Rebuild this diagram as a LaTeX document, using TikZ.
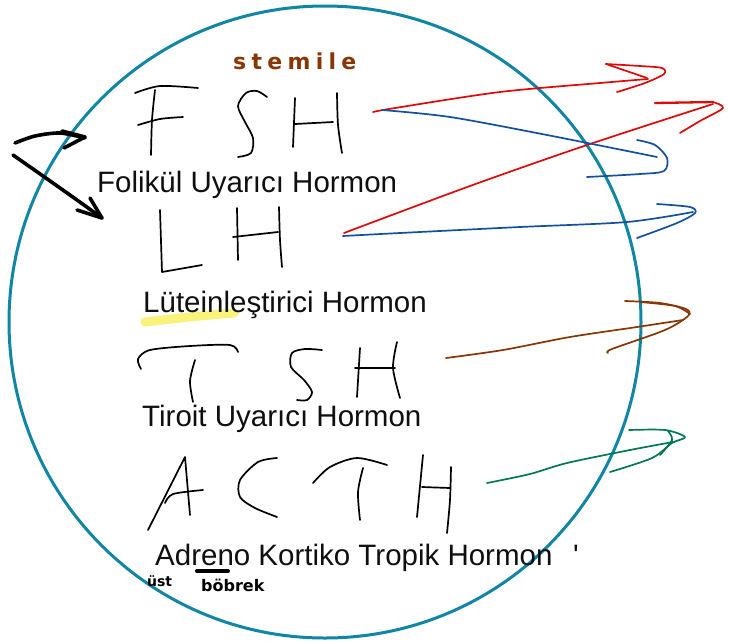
\documentclass[tikz,border=0pt]{standalone}
\usepackage{fontspec}
\setmainfont{Liberation Sans}
\newfontfamily\handfont[LetterSpace=24]{DejaVu Sans}
\newfontfamily\notefont{DejaVu Sans}
\definecolor{circteal}{RGB}{16,134,164}
\definecolor{inkred}{RGB}{222,10,10}
\definecolor{inkblue}{RGB}{20,80,155}
\definecolor{inkbrown}{RGB}{135,55,5}
\definecolor{inkgreen}{RGB}{0,120,85}
\definecolor{hilite}{RGB}{248,240,90}
\definecolor{textblack}{RGB}{15,15,15}
\tikzset{
  pen/.style={line width=1.7pt, line cap=round, line join=round, black},
  bigpen/.style={line width=3.6pt, line cap=round, line join=round, black},
  colpen/.style={line width=1.7pt, line cap=round, line join=round, draw=#1},
  label/.style={anchor=base west, inner sep=0pt, text=textblack, font=\fontsize{29.5}{32}\selectfont},
}
\begin{document}
\begin{tikzpicture}[x=1pt,y=-1pt]
\useasboundingbox (0,0) rectangle (729,641);
\fill[white] (0,0) rectangle (729,641);
% highlight
\draw[line width=9pt, line cap=round, draw=hilite, opacity=0.8]
  plot[smooth] coordinates {(145,322) (180,318) (210,315) (234,313)};
% circle
\node[draw=circteal, line width=3pt, circle, minimum size=632pt, inner sep=0pt] (ring) at (325,322) {};
% texts
\node[label] (fsht) at (97,192) {Folikül Uyarıcı Hormon};
\node[label] (lht) at (143,312) {Lüteinleştirici Hormon};
\node[label] (tsht) at (142,426) {Tiroit Uyarıcı Hormon};
\node[label] (actht) at (155,565) {Adreno Kortiko Tropik Hormon};
\node[label] (tick) at (573,565) {\textquotesingle};
\node[anchor=base west, inner sep=0pt, text=inkbrown, font=\handfont\bfseries\fontsize{22}{24}\selectfont] (stem) at (233,69) {stemile};
\node[anchor=base west, inner sep=0pt, font=\notefont\bfseries\fontsize{14}{15}\selectfont] (ust) at (147,586) {üst};
\node[anchor=base west, inner sep=0pt, font=\notefont\bfseries\fontsize{16}{17}\selectfont] (bobrek) at (201,591) {böbrek};
\draw[line width=4pt, line cap=round] (197,571) -- (228,571);
% FSH
\draw[pen] plot[smooth] coordinates {(135,93) (160,86) (198,88)};
\draw[pen] plot[smooth] coordinates {(155,90) (152,120) (151,155)};
\draw[pen] plot[smooth] coordinates {(138,125) (160,119) (183,117)};
\draw[pen] plot[smooth] coordinates {(267,97) (257,91) (246,93) (238,106) (245,122) (253,138) (251,153) (238,157)};
\draw[pen] (295,98) -- (293,147);
\draw[pen] (295,124) -- (333,122);
\draw[pen] plot[smooth] coordinates {(337,93) (338,125) (342,153)};
% LH
\draw[pen] (160,210) -- (162,272) -- (202,265);
\draw[pen] (237,208) -- (238,260);
\draw[pen] (233,237) -- (278,232);
\draw[pen] plot[smooth] coordinates {(279,207) (280,240) (282,267)};
% TSH
\draw[pen] plot[smooth] coordinates {(141,369) (138,359) (150,350) (190,346) (230,345) (238,352)};
\draw[pen] plot[smooth] coordinates {(195,360) (190,381) (193,402)};
\draw[pen] plot[smooth] coordinates {(322,350) (305,349) (292,353) (291,367) (304,380) (312,392) (307,400) (297,400)};
\draw[pen] (360,348) -- (357,397);
\draw[pen] (355,368) -- (395,368);
\draw[pen] plot[smooth] coordinates {(397,342) (393,368) (400,398)};
% ACTH
\draw[pen] (148,530) -- (185,457) -- (190,515);
\draw[pen] plot[smooth] coordinates {(165,503) (173,494) (203,490)};
\draw[pen] plot[smooth] coordinates {(277,458) (258,462) (240,480) (240,497) (255,508) (277,517)};
\draw[pen] plot[smooth] coordinates {(313,483) (330,467) (357,458) (387,465)};
\draw[pen] plot[smooth] coordinates {(363,468) (358,492) (360,520)};
\draw[pen] (423,455) -- (417,517);
\draw[pen] (422,487) -- (450,488);
\draw[pen] plot[smooth] coordinates {(451,467) (450,500) (447,533)};
% black arrows
\draw[bigpen] plot[smooth] coordinates {(15,143) (35,136) (60,133) (85,138)};
\draw[bigpen] (62,131) -- (85,137) -- (64,148);
\draw[bigpen] plot[smooth] coordinates {(13,155) (43,176) (77,200) (102,218)};
\draw[bigpen] (90,198) -- (102,218) -- (77,210);
% red arrows
\draw[colpen=inkred] plot[smooth] coordinates {(373,112) (395,108) (500,92) (600,83) (648,79)};
\draw[colpen=inkred] (606,64) -- (647,78);
\draw[colpen=inkred] plot[smooth] coordinates {(606,64) (640,66) (662,68) (664,74) (645,83) (617,92)};
\draw[colpen=inkred] plot[smooth] coordinates {(344,233) (470,186) (587,145) (713,104)};
\draw[colpen=inkred, line width=2.3pt] (655,103) -- (713,102);
\draw[colpen=inkred] plot[smooth] coordinates {(713,102) (723,108) (700,121) (680,133)};
% blue arrows
\draw[colpen=inkblue] plot[smooth] coordinates {(382,110) (450,117) (547,135) (657,157)};
\draw[colpen=inkblue] plot[smooth] coordinates {(637,140) (655,145) (667,158) (664,171) (640,174) (587,177)};
\draw[colpen=inkblue] plot[smooth] coordinates {(343,236) (400,233) (520,227) (627,222) (693,212)};
\draw[colpen=inkblue] plot[smooth] coordinates {(657,204) (690,207) (695,213) (677,223) (637,238)};
% brown arrow
\draw[colpen=inkbrown] plot[smooth] coordinates {(446,358) (503,350) (570,337) (637,327) (683,320)};
\draw[colpen=inkbrown] plot[smooth] coordinates {(625,301) (660,303) (686,309) (688,316) (665,330) (612,349) (608,353)};
\draw[colpen=inkbrown] plot[smooth] coordinates {(640,302) (675,306) (690,314)};
% green arrow
\draw[colpen=inkgreen] plot[smooth] coordinates {(487,483) (530,474) (567,463) (630,450) (673,442)};
\draw[colpen=inkgreen] plot[smooth] coordinates {(629,430) (665,430) (685,437) (672,443) (652,458) (610,472)};
\draw[colpen=inkgreen] plot[smooth] coordinates {(668,431) (672,440) (660,455)};
\end{tikzpicture}
\end{document}
